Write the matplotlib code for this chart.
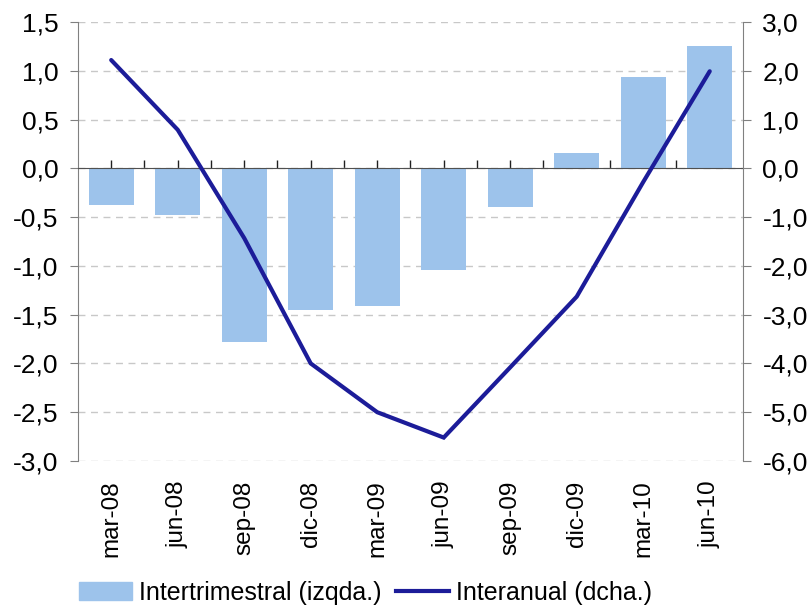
#!/usr/bin/env python3

# Intertrimestral (bars, left axis) vs Interanual (line, right axis)

import numpy as np
import matplotlib.pyplot as plt
from matplotlib.ticker import FuncFormatter

plt.rcParams['font.family'] = ['Liberation Sans', 'DejaVu Sans']

# Data
quarters = ['mar-08', 'jun-08', 'sep-08', 'dic-08', 'mar-09',
            'jun-09', 'sep-09', 'dic-09', 'mar-10', 'jun-10']
intertrimestral = [-0.38, -0.48, -1.78, -1.45, -1.41, -1.04, -0.40, 0.16, 0.94, 1.25]
interanual = [2.22, 0.79, -1.43, -4.0, -5.0, -5.52, -4.08, -2.63, -0.28, 1.99]

bar_color = '#9DC3EB'
line_color = '#1C1C99'
axis_color = '#808080'

comma = FuncFormatter(lambda v, p: f'{v:.1f}'.replace('.', ','))

fig = plt.figure(figsize=(8.12, 6.06), dpi=100)
ax = fig.add_axes([0.096, 0.2393, 0.819, 0.7244])
x = np.arange(len(quarters))

ax.bar(x, intertrimestral, width=0.68, color=bar_color, zorder=2)
ax.set_xlim(-0.5, len(quarters) - 0.5)
ax.set_ylim(-3.0, 1.5)
ax.set_yticks(np.arange(-3.0, 1.51, 0.5))
ax.yaxis.set_major_formatter(comma)
ax.yaxis.grid(True, linestyle=(0, (5, 4)), color='#C8C8C8', linewidth=1)
ax.set_axisbelow(True)

# category axis drawn at zero, ticks pointing up
ax.spines['bottom'].set_position(('data', 0))
ax.spines['bottom'].set_color('#505050')
ax.spines['bottom'].set_zorder(3)
ax.spines['top'].set_visible(False)
ax.spines['right'].set_visible(False)
ax.spines['left'].set_color(axis_color)
ax.set_xticks(x)
ax.set_xticks(x[1:] - 0.5, minor=True)
ax.tick_params(axis='x', which='both', direction='in', length=6, width=1,
               color='#202020', labelbottom=False)
ax.tick_params(axis='y', direction='out', length=6, color=axis_color,
               labelsize=19, pad=8)

# labels at the bottom of the plot
sec = ax.secondary_xaxis('bottom')
sec.set_xticks(x, quarters, rotation=90)
sec.tick_params(length=0, labelsize=17.5, pad=14)
sec.spines['bottom'].set_visible(False)

ax2 = ax.twinx()
ax2.plot(x, interanual, color=line_color, linewidth=3, solid_capstyle='round',
         solid_joinstyle='miter', zorder=4)
ax2.set_ylim(-6.0, 3.0)
ax2.set_yticks(np.arange(-6.0, 3.01, 1.0))
ax2.yaxis.set_major_formatter(comma)
for s in ['top', 'bottom', 'left']:
    ax2.spines[s].set_visible(False)
ax2.spines['right'].set_color(axis_color)
ax2.tick_params(axis='y', direction='out', length=6, color=axis_color,
                labelsize=19, pad=8)

bar_h = plt.Rectangle((0, 0), 1, 1, color=bar_color)
line_h = plt.Line2D([], [], color=line_color, linewidth=3)
fig.legend([bar_h, line_h], ['Intertrimestral (izqda.)', 'Interanual (dcha.)'],
           loc='lower left', bbox_to_anchor=(0.070, -0.035), ncol=2, frameon=False,
           fontsize=18, handlelength=2.1, handleheight=0.72, handletextpad=0.28,
           columnspacing=0.6)

fig.savefig('out.png', dpi=100)
